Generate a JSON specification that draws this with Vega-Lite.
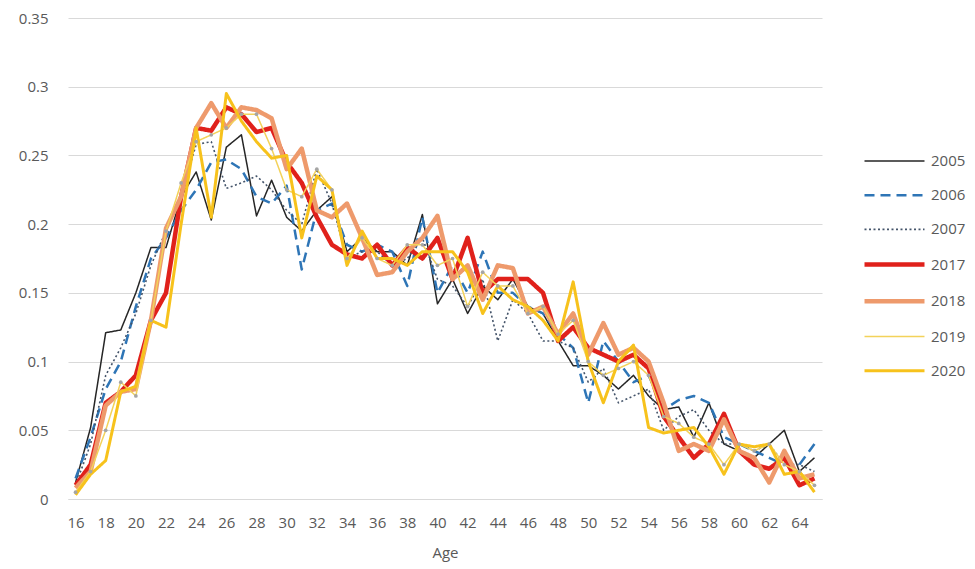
{
  "$schema": "https://vega.github.io/schema/vega-lite/v6.json",
  "autosize": "none",
  "width": 754,
  "height": 481,
  "padding": {"left": 68, "top": 18, "right": 153, "bottom": 70},
  "background": "white",
  "config": {
    "view": {"stroke": null},
    "font": "Open Sans",
    "axis": {"labelColor": "#595959", "titleColor": "#595959", "labelFont": "Open Sans", "titleFont": "Open Sans"},
    "legend": {"labelFont": "Open Sans"}
  },
  "data": {"values": [
{"age":16,"year":"2005","share":0.012},{"age":17,"year":"2005","share":0.052},{"age":18,"year":"2005","share":0.121},{"age":19,"year":"2005","share":0.123},{"age":20,"year":"2005","share":0.15},{"age":21,"year":"2005","share":0.183},{"age":22,"year":"2005","share":0.183},{"age":23,"year":"2005","share":0.22},{"age":24,"year":"2005","share":0.238},{"age":25,"year":"2005","share":0.203},{"age":26,"year":"2005","share":0.256},{"age":27,"year":"2005","share":0.265},{"age":28,"year":"2005","share":0.206},{"age":29,"year":"2005","share":0.232},{"age":30,"year":"2005","share":0.205},{"age":31,"year":"2005","share":0.195},{"age":32,"year":"2005","share":0.21},{"age":33,"year":"2005","share":0.22},{"age":34,"year":"2005","share":0.18},{"age":35,"year":"2005","share":0.19},{"age":36,"year":"2005","share":0.18},{"age":37,"year":"2005","share":0.18},{"age":38,"year":"2005","share":0.17},{"age":39,"year":"2005","share":0.207},{"age":40,"year":"2005","share":0.142},{"age":41,"year":"2005","share":0.16},{"age":42,"year":"2005","share":0.135},{"age":43,"year":"2005","share":0.155},{"age":44,"year":"2005","share":0.145},{"age":45,"year":"2005","share":0.16},{"age":46,"year":"2005","share":0.14},{"age":47,"year":"2005","share":0.135},{"age":48,"year":"2005","share":0.115},{"age":49,"year":"2005","share":0.097},{"age":50,"year":"2005","share":0.097},{"age":51,"year":"2005","share":0.09},{"age":52,"year":"2005","share":0.08},{"age":53,"year":"2005","share":0.09},{"age":54,"year":"2005","share":0.075},{"age":55,"year":"2005","share":0.065},{"age":56,"year":"2005","share":0.067},{"age":57,"year":"2005","share":0.045},{"age":58,"year":"2005","share":0.07},{"age":59,"year":"2005","share":0.04},{"age":60,"year":"2005","share":0.035},{"age":61,"year":"2005","share":0.03},{"age":62,"year":"2005","share":0.04},{"age":63,"year":"2005","share":0.05},{"age":64,"year":"2005","share":0.02},{"age":65,"year":"2005","share":0.03},
{"age":16,"year":"2006","share":0.015},{"age":17,"year":"2006","share":0.045},{"age":18,"year":"2006","share":0.08},{"age":19,"year":"2006","share":0.1},{"age":20,"year":"2006","share":0.14},{"age":21,"year":"2006","share":0.175},{"age":22,"year":"2006","share":0.19},{"age":23,"year":"2006","share":0.21},{"age":24,"year":"2006","share":0.225},{"age":25,"year":"2006","share":0.245},{"age":26,"year":"2006","share":0.247},{"age":27,"year":"2006","share":0.24},{"age":28,"year":"2006","share":0.22},{"age":29,"year":"2006","share":0.215},{"age":30,"year":"2006","share":0.228},{"age":31,"year":"2006","share":0.167},{"age":32,"year":"2006","share":0.21},{"age":33,"year":"2006","share":0.215},{"age":34,"year":"2006","share":0.185},{"age":35,"year":"2006","share":0.18},{"age":36,"year":"2006","share":0.185},{"age":37,"year":"2006","share":0.18},{"age":38,"year":"2006","share":0.155},{"age":39,"year":"2006","share":0.205},{"age":40,"year":"2006","share":0.15},{"age":41,"year":"2006","share":0.17},{"age":42,"year":"2006","share":0.15},{"age":43,"year":"2006","share":0.18},{"age":44,"year":"2006","share":0.15},{"age":45,"year":"2006","share":0.15},{"age":46,"year":"2006","share":0.14},{"age":47,"year":"2006","share":0.135},{"age":48,"year":"2006","share":0.12},{"age":49,"year":"2006","share":0.11},{"age":50,"year":"2006","share":0.07},{"age":51,"year":"2006","share":0.115},{"age":52,"year":"2006","share":0.1},{"age":53,"year":"2006","share":0.085},{"age":54,"year":"2006","share":0.09},{"age":55,"year":"2006","share":0.065},{"age":56,"year":"2006","share":0.072},{"age":57,"year":"2006","share":0.075},{"age":58,"year":"2006","share":0.07},{"age":59,"year":"2006","share":0.045},{"age":60,"year":"2006","share":0.04},{"age":61,"year":"2006","share":0.035},{"age":62,"year":"2006","share":0.03},{"age":63,"year":"2006","share":0.025},{"age":64,"year":"2006","share":0.025},{"age":65,"year":"2006","share":0.04},
{"age":16,"year":"2007","share":0.01},{"age":17,"year":"2007","share":0.04},{"age":18,"year":"2007","share":0.09},{"age":19,"year":"2007","share":0.11},{"age":20,"year":"2007","share":0.135},{"age":21,"year":"2007","share":0.17},{"age":22,"year":"2007","share":0.195},{"age":23,"year":"2007","share":0.22},{"age":24,"year":"2007","share":0.258},{"age":25,"year":"2007","share":0.26},{"age":26,"year":"2007","share":0.226},{"age":27,"year":"2007","share":0.23},{"age":28,"year":"2007","share":0.235},{"age":29,"year":"2007","share":0.225},{"age":30,"year":"2007","share":0.21},{"age":31,"year":"2007","share":0.2},{"age":32,"year":"2007","share":0.24},{"age":33,"year":"2007","share":0.215},{"age":34,"year":"2007","share":0.175},{"age":35,"year":"2007","share":0.18},{"age":36,"year":"2007","share":0.18},{"age":37,"year":"2007","share":0.17},{"age":38,"year":"2007","share":0.175},{"age":39,"year":"2007","share":0.19},{"age":40,"year":"2007","share":0.16},{"age":41,"year":"2007","share":0.155},{"age":42,"year":"2007","share":0.14},{"age":43,"year":"2007","share":0.16},{"age":44,"year":"2007","share":0.115},{"age":45,"year":"2007","share":0.145},{"age":46,"year":"2007","share":0.135},{"age":47,"year":"2007","share":0.115},{"age":48,"year":"2007","share":0.115},{"age":49,"year":"2007","share":0.11},{"age":50,"year":"2007","share":0.085},{"age":51,"year":"2007","share":0.095},{"age":52,"year":"2007","share":0.07},{"age":53,"year":"2007","share":0.075},{"age":54,"year":"2007","share":0.08},{"age":55,"year":"2007","share":0.05},{"age":56,"year":"2007","share":0.06},{"age":57,"year":"2007","share":0.065},{"age":58,"year":"2007","share":0.05},{"age":59,"year":"2007","share":0.04},{"age":60,"year":"2007","share":0.04},{"age":61,"year":"2007","share":0.035},{"age":62,"year":"2007","share":0.04},{"age":63,"year":"2007","share":0.025},{"age":64,"year":"2007","share":0.025},{"age":65,"year":"2007","share":0.02},
{"age":16,"year":"2017","share":0.01},{"age":17,"year":"2017","share":0.025},{"age":18,"year":"2017","share":0.07},{"age":19,"year":"2017","share":0.078},{"age":20,"year":"2017","share":0.09},{"age":21,"year":"2017","share":0.13},{"age":22,"year":"2017","share":0.15},{"age":23,"year":"2017","share":0.22},{"age":24,"year":"2017","share":0.27},{"age":25,"year":"2017","share":0.268},{"age":26,"year":"2017","share":0.285},{"age":27,"year":"2017","share":0.28},{"age":28,"year":"2017","share":0.267},{"age":29,"year":"2017","share":0.27},{"age":30,"year":"2017","share":0.245},{"age":31,"year":"2017","share":0.23},{"age":32,"year":"2017","share":0.205},{"age":33,"year":"2017","share":0.185},{"age":34,"year":"2017","share":0.178},{"age":35,"year":"2017","share":0.175},{"age":36,"year":"2017","share":0.185},{"age":37,"year":"2017","share":0.17},{"age":38,"year":"2017","share":0.183},{"age":39,"year":"2017","share":0.175},{"age":40,"year":"2017","share":0.19},{"age":41,"year":"2017","share":0.16},{"age":42,"year":"2017","share":0.19},{"age":43,"year":"2017","share":0.15},{"age":44,"year":"2017","share":0.16},{"age":45,"year":"2017","share":0.16},{"age":46,"year":"2017","share":0.16},{"age":47,"year":"2017","share":0.15},{"age":48,"year":"2017","share":0.115},{"age":49,"year":"2017","share":0.125},{"age":50,"year":"2017","share":0.11},{"age":51,"year":"2017","share":0.105},{"age":52,"year":"2017","share":0.1},{"age":53,"year":"2017","share":0.105},{"age":54,"year":"2017","share":0.095},{"age":55,"year":"2017","share":0.06},{"age":56,"year":"2017","share":0.045},{"age":57,"year":"2017","share":0.03},{"age":58,"year":"2017","share":0.04},{"age":59,"year":"2017","share":0.062},{"age":60,"year":"2017","share":0.035},{"age":61,"year":"2017","share":0.025},{"age":62,"year":"2017","share":0.022},{"age":63,"year":"2017","share":0.03},{"age":64,"year":"2017","share":0.01},{"age":65,"year":"2017","share":0.015},
{"age":16,"year":"2018","share":0.008},{"age":17,"year":"2018","share":0.02},{"age":18,"year":"2018","share":0.068},{"age":19,"year":"2018","share":0.078},{"age":20,"year":"2018","share":0.08},{"age":21,"year":"2018","share":0.13},{"age":22,"year":"2018","share":0.197},{"age":23,"year":"2018","share":0.22},{"age":24,"year":"2018","share":0.27},{"age":25,"year":"2018","share":0.288},{"age":26,"year":"2018","share":0.27},{"age":27,"year":"2018","share":0.285},{"age":28,"year":"2018","share":0.283},{"age":29,"year":"2018","share":0.277},{"age":30,"year":"2018","share":0.24},{"age":31,"year":"2018","share":0.255},{"age":32,"year":"2018","share":0.21},{"age":33,"year":"2018","share":0.205},{"age":34,"year":"2018","share":0.215},{"age":35,"year":"2018","share":0.19},{"age":36,"year":"2018","share":0.163},{"age":37,"year":"2018","share":0.165},{"age":38,"year":"2018","share":0.18},{"age":39,"year":"2018","share":0.19},{"age":40,"year":"2018","share":0.206},{"age":41,"year":"2018","share":0.16},{"age":42,"year":"2018","share":0.17},{"age":43,"year":"2018","share":0.145},{"age":44,"year":"2018","share":0.17},{"age":45,"year":"2018","share":0.168},{"age":46,"year":"2018","share":0.135},{"age":47,"year":"2018","share":0.14},{"age":48,"year":"2018","share":0.12},{"age":49,"year":"2018","share":0.135},{"age":50,"year":"2018","share":0.105},{"age":51,"year":"2018","share":0.128},{"age":52,"year":"2018","share":0.105},{"age":53,"year":"2018","share":0.11},{"age":54,"year":"2018","share":0.1},{"age":55,"year":"2018","share":0.07},{"age":56,"year":"2018","share":0.035},{"age":57,"year":"2018","share":0.04},{"age":58,"year":"2018","share":0.035},{"age":59,"year":"2018","share":0.058},{"age":60,"year":"2018","share":0.035},{"age":61,"year":"2018","share":0.03},{"age":62,"year":"2018","share":0.012},{"age":63,"year":"2018","share":0.035},{"age":64,"year":"2018","share":0.015},{"age":65,"year":"2018","share":0.018},
{"age":16,"year":"2019","share":0.005},{"age":17,"year":"2019","share":0.02},{"age":18,"year":"2019","share":0.05},{"age":19,"year":"2019","share":0.085},{"age":20,"year":"2019","share":0.075},{"age":21,"year":"2019","share":0.13},{"age":22,"year":"2019","share":0.195},{"age":23,"year":"2019","share":0.23},{"age":24,"year":"2019","share":0.26},{"age":25,"year":"2019","share":0.265},{"age":26,"year":"2019","share":0.27},{"age":27,"year":"2019","share":0.28},{"age":28,"year":"2019","share":0.28},{"age":29,"year":"2019","share":0.255},{"age":30,"year":"2019","share":0.225},{"age":31,"year":"2019","share":0.22},{"age":32,"year":"2019","share":0.24},{"age":33,"year":"2019","share":0.225},{"age":34,"year":"2019","share":0.175},{"age":35,"year":"2019","share":0.19},{"age":36,"year":"2019","share":0.175},{"age":37,"year":"2019","share":0.17},{"age":38,"year":"2019","share":0.185},{"age":39,"year":"2019","share":0.185},{"age":40,"year":"2019","share":0.17},{"age":41,"year":"2019","share":0.175},{"age":42,"year":"2019","share":0.14},{"age":43,"year":"2019","share":0.165},{"age":44,"year":"2019","share":0.155},{"age":45,"year":"2019","share":0.155},{"age":46,"year":"2019","share":0.135},{"age":47,"year":"2019","share":0.14},{"age":48,"year":"2019","share":0.12},{"age":49,"year":"2019","share":0.13},{"age":50,"year":"2019","share":0.1},{"age":51,"year":"2019","share":0.09},{"age":52,"year":"2019","share":0.095},{"age":53,"year":"2019","share":0.1},{"age":54,"year":"2019","share":0.09},{"age":55,"year":"2019","share":0.06},{"age":56,"year":"2019","share":0.055},{"age":57,"year":"2019","share":0.045},{"age":58,"year":"2019","share":0.04},{"age":59,"year":"2019","share":0.025},{"age":60,"year":"2019","share":0.04},{"age":61,"year":"2019","share":0.035},{"age":62,"year":"2019","share":0.04},{"age":63,"year":"2019","share":0.025},{"age":64,"year":"2019","share":0.02},{"age":65,"year":"2019","share":0.01},
{"age":16,"year":"2020","share":0.003},{"age":17,"year":"2020","share":0.018},{"age":18,"year":"2020","share":0.028},{"age":19,"year":"2020","share":0.078},{"age":20,"year":"2020","share":0.082},{"age":21,"year":"2020","share":0.13},{"age":22,"year":"2020","share":0.125},{"age":23,"year":"2020","share":0.2},{"age":24,"year":"2020","share":0.27},{"age":25,"year":"2020","share":0.205},{"age":26,"year":"2020","share":0.295},{"age":27,"year":"2020","share":0.275},{"age":28,"year":"2020","share":0.26},{"age":29,"year":"2020","share":0.248},{"age":30,"year":"2020","share":0.25},{"age":31,"year":"2020","share":0.19},{"age":32,"year":"2020","share":0.235},{"age":33,"year":"2020","share":0.225},{"age":34,"year":"2020","share":0.17},{"age":35,"year":"2020","share":0.195},{"age":36,"year":"2020","share":0.175},{"age":37,"year":"2020","share":0.175},{"age":38,"year":"2020","share":0.17},{"age":39,"year":"2020","share":0.18},{"age":40,"year":"2020","share":0.18},{"age":41,"year":"2020","share":0.18},{"age":42,"year":"2020","share":0.165},{"age":43,"year":"2020","share":0.135},{"age":44,"year":"2020","share":0.155},{"age":45,"year":"2020","share":0.145},{"age":46,"year":"2020","share":0.14},{"age":47,"year":"2020","share":0.13},{"age":48,"year":"2020","share":0.115},{"age":49,"year":"2020","share":0.158},{"age":50,"year":"2020","share":0.1},{"age":51,"year":"2020","share":0.07},{"age":52,"year":"2020","share":0.1},{"age":53,"year":"2020","share":0.112},{"age":54,"year":"2020","share":0.052},{"age":55,"year":"2020","share":0.048},{"age":56,"year":"2020","share":0.05},{"age":57,"year":"2020","share":0.052},{"age":58,"year":"2020","share":0.038},{"age":59,"year":"2020","share":0.018},{"age":60,"year":"2020","share":0.04},{"age":61,"year":"2020","share":0.038},{"age":62,"year":"2020","share":0.04},{"age":63,"year":"2020","share":0.018},{"age":64,"year":"2020","share":0.02},{"age":65,"year":"2020","share":0.005}
  ]},
  "encoding": {
    "x": {
      "field": "age", "type": "quantitative",
      "scale": {"domain": [15.5, 65.5], "nice": false, "zero": false},
      "axis": {
        "title": "Age", "titleFontSize": 15, "titleFontWeight": "normal", "titlePadding": 15,
        "values": [16,18,20,22,24,26,28,30,32,34,36,38,40,42,44,46,48,50,52,54,56,58,60,62,64],
        "tickCount": 25,
        "labelFontSize": 15, "labelPadding": 16, "labelOverlap": false, "labelBound": false, "ticks": false, "grid": false,
        "domainColor": "#D9D9D9", "domainWidth": 1
      }
    },
    "y": {
      "field": "share", "type": "quantitative",
      "scale": {"domain": [0, 0.35], "nice": false},
      "axis": {
        "title": null, "values": [0,0.05,0.1,0.15,0.2,0.25,0.3,0.35], "format": "~g",
        "labelFontSize": 15, "labelPadding": 20, "ticks": false, "domain": false,
        "gridColor": "#D9D9D9", "gridWidth": 1
      }
    }
  },
  "layer": [
    {
      "mark": {"type": "line", "strokeJoin": "round", "strokeCap": "butt"},
      "encoding": {
        "color": {
          "field": "year", "type": "ordinal",
          "scale": {
            "domain": ["2005","2006","2007","2017","2018","2019","2020"],
            "range": ["#262626","#2E75B6","#44546A","#E0211B","#EE9A6C","#F3D25A","#F7C21C"]
          },
          "legend": {
            "title": null, "orient": "none", "legendX": 809, "legendY": 127,
            "symbolType": "M-2,0H2", "symbolSize": 900, "rowPadding": 9.7,
            "labelFontSize": 15, "labelColor": "#595959", "labelOffset": 19
          }
        },
        "strokeDash": {
          "field": "year", "type": "ordinal",
          "scale": {
            "domain": ["2005","2006","2007","2017","2018","2019","2020"],
            "range": [[1,0],[10,6],[2,2.5],[1,0],[1,0],[1,0],[1,0]]
          },
          "legend": {
            "title": null, "orient": "none", "legendX": 809, "legendY": 127,
            "symbolType": "M-2,0H2", "symbolSize": 900, "rowPadding": 9.7,
            "labelFontSize": 15, "labelColor": "#595959", "labelOffset": 19
          }
        },
        "strokeWidth": {
          "field": "year", "type": "ordinal",
          "scale": {
            "type": "ordinal",
            "domain": ["2005","2006","2007","2017","2018","2019","2020"],
            "range": [1.5,2.5,1.6,4.5,4.5,1.5,3]
          },
          "legend": {
            "title": null, "orient": "none", "legendX": 809, "legendY": 127,
            "symbolType": "M-2,0H2", "symbolSize": 900, "rowPadding": 9.7,
            "labelFontSize": 15, "labelColor": "#595959", "labelOffset": 19
          }
        }
      }
    },
    {
      "transform": [{"filter": "datum.year == '2019'"}],
      "mark": {"type": "circle", "size": 14, "color": "#A5A5A5", "opacity": 1}
    }
  ]
}
